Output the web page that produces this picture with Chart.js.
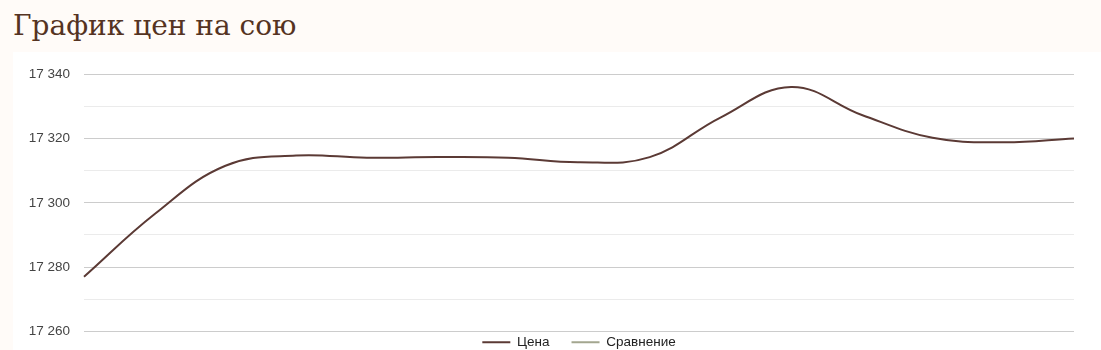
<!DOCTYPE html>
<html>
<head>
<meta charset="utf-8">
<script src="https://cdn.jsdelivr.net/npm/chart.js@4"></script>
<style>
  html, body { margin: 0; padding: 0; background: #fffbf8; overflow: hidden; }
  h1 {
    position: absolute; left: 13px; top: 9px; margin: 0;
    font: 400 28px "DejaVu Serif", serif; color: #553322;
  }
  .box { position: absolute; left: 13px; top: 52px; width: 1088px; height: 330px; background: #fff; }
</style>
</head>
<body>
<h1>График цен на сою</h1>
<div class="box"><canvas id="priceChart"></canvas></div>
<script>
// values
const days = ['1', '2', '3', '4', '5', '6', '7', '8', '9', '10', '11', '12', '13', '14', '15'];
const prices = [17277, 17296.5, 17311.5, 17314.7, 17314, 17314.2, 17314, 17312.6, 17314.2, 17326.5, 17336, 17327.3, 17320.2, 17318.8, 17320];
const compare = [];

const fmt = v => String(v).replace(/\B(?=(\d{3})+(?!\d))/g, ' ');

const canvas = document.getElementById('priceChart');
canvas.width = 1088;
canvas.height = 325;

// pull the legend up so it sits just under the plot
const legendShift = {
  id: 'legendShift',
  afterLayout(chart) {
    const lg = chart.legend;
    lg.top = chart.chartArea.bottom - 18;
    lg.bottom = lg.top + lg.height;
    if (lg.adjustHitBoxes) lg.adjustHitBoxes();
  },
};

const baseLabels = Chart.defaults.plugins.legend.labels.generateLabels;

new Chart(canvas, {
  type: 'line',
  data: {
    labels: days,
    datasets: [
      {
        label: 'Цена',
        data: prices,
        borderColor: '#5b3a35',
        backgroundColor: '#5b3a35',
        borderWidth: 2,
        pointRadius: 0,
        tension: 0.4,
      },
      {
        label: 'Сравнение',
        data: compare,
        borderColor: '#a3a68f',
        backgroundColor: '#a3a68f',
        borderWidth: 2,
        pointRadius: 0,
      },
    ],
  },
  options: {
    responsive: false,
    animation: false,
    layout: { padding: { left: 0, right: 27, top: 20, bottom: 0 } },
    plugins: {
      tooltip: { enabled: false },
      legend: {
        position: 'bottom',
        fullSize: false,
        labels: {
          boxWidth: 28,
          boxHeight: 2,
          padding: 22,
          color: '#222',
          font: { family: 'Liberation Sans, Arial', size: 13.5 },
          generateLabels: chart => baseLabels(chart).map(l => ({ ...l, lineWidth: 0 })),
        },
      },
    },
    scales: {
      x: { display: false, offset: false },
      y: {
        min: 17260,
        max: 17340,
        border: { display: false },
        grid: {
          color: ctx => (ctx.tick.value % 20 === 0 ? '#cccccc' : '#ebebeb'),
          drawTicks: false,
        },
        ticks: {
          stepSize: 10,
          padding: 14,
          color: '#444',
          font: { family: 'Liberation Sans, Arial', size: 13.5 },
          callback: v => (v % 20 === 0 ? fmt(v) : ''),
        },
        afterFit: axis => { axis.width = 71; },
      },
    },
  },
  plugins: [legendShift],
});
</script>
</body>
</html>
